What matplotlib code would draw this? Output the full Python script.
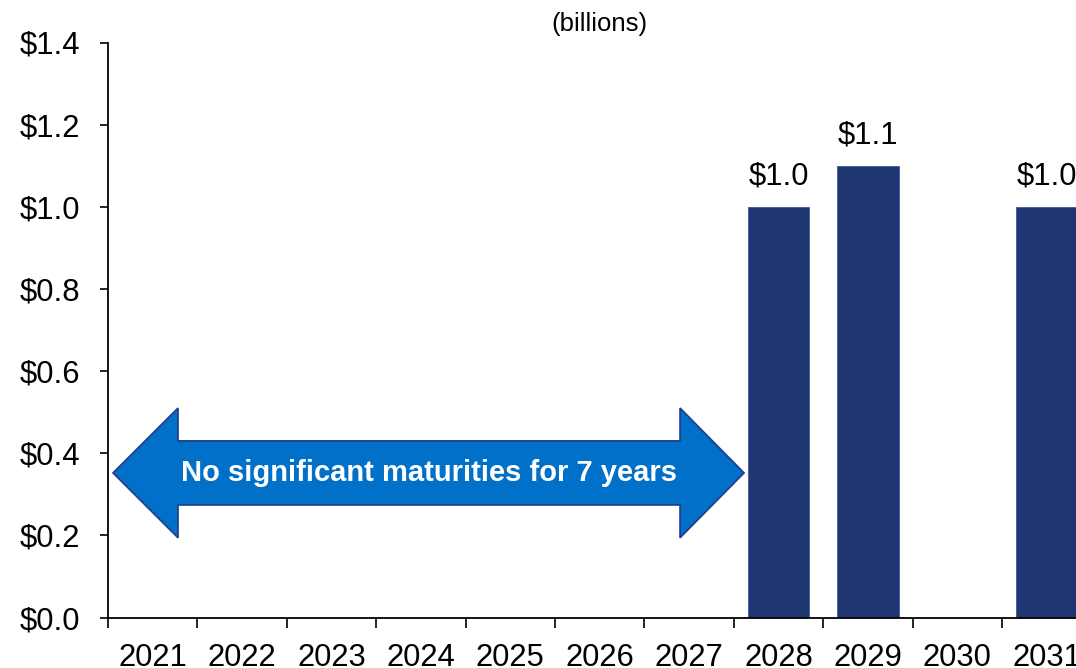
import matplotlib
matplotlib.use("Agg")
import matplotlib.pyplot as plt
from matplotlib.patches import Polygon

years = ["2021", "2022", "2023", "2024", "2025", "2026", "2027",
         "2028", "2029", "2030", "2031"]
maturities = [0.0, 0.0, 0.0, 0.0, 0.0, 0.0, 0.0, 1.0, 1.1, 0.0, 1.0]
y_ticks = [0.0, 0.2, 0.4, 0.6, 0.8, 1.0, 1.2, 1.4]
arrow_text = "No significant maturities for 7 years"

plt.rcParams["font.family"] = ["Liberation Sans", "DejaVu Sans"]

W, H = 1076, 668
fig = plt.figure(figsize=(W / 100, H / 100), dpi=100)
left_px, right_px, bottom_px, top_px = 108, 1091.5, 617.5, 42.5
ax = fig.add_axes([left_px / W, 1 - bottom_px / H,
                   (right_px - left_px) / W, (bottom_px - top_px) / H])

label_size = 22.3
bar_color = "#1F3673"
x = list(range(len(years)))
for xi, v in zip(x, maturities):
    if v > 0:
        ax.bar(xi, v, width=0.69, color=bar_color, edgecolor="#3A5A9A",
               linewidth=0.6, zorder=2)
        ax.annotate(f"${v:.1f}", (xi, v), xytext=(0, 11),
                    textcoords="offset points", ha="center", va="bottom",
                    fontsize=label_size, color="black")

ax.set_xlim(-0.5, len(years) - 0.5)
ax.set_ylim(0, 1.4)

# category boundaries as major ticks, year labels centred between them
ax.set_xticks([i - 0.5 for i in range(len(years) + 1)])
ax.set_xticklabels([])
ax.set_xticks(x, minor=True)
ax.set_xticklabels(years, minor=True, fontsize=label_size)
ax.tick_params(axis="x", which="major", direction="out", length=7, width=1.2)
ax.tick_params(axis="x", which="minor", length=0, pad=18)

ax.set_yticks(y_ticks)
ax.set_yticklabels([f"${t:.1f}" for t in y_ticks], fontsize=label_size)
ax.tick_params(axis="y", direction="out", length=6, width=1.2, pad=14)

for side in ("top", "right"):
    ax.spines[side].set_visible(False)
for side in ("left", "bottom"):
    ax.spines[side].set_linewidth(1.3)
    ax.spines[side].set_color("black")

# double-headed callout arrow over the years without maturities
tip_l, base_l, base_r, tip_r = -0.444, 0.283, 5.898, 6.614
yc, head_hi, head_lo, shaft_hi, shaft_lo = 0.352, 0.510, 0.194, 0.430, 0.274
arrow = Polygon([(tip_l, yc), (base_l, head_hi), (base_l, shaft_hi),
                 (base_r, shaft_hi), (base_r, head_hi), (tip_r, yc),
                 (base_r, head_lo), (base_r, shaft_lo), (base_l, shaft_lo),
                 (base_l, head_lo)], closed=True,
                facecolor="#0070C8", edgecolor="#1F3A8A", linewidth=1.2,
                zorder=3)
ax.add_patch(arrow)
ax.text((tip_l + tip_r) / 2, yc, arrow_text, ha="center", va="center",
        fontsize=21, fontweight="bold", color="white", zorder=4)

fig.text(599 / W, 1 - 24 / H, "(billions)", ha="center", va="center",
         fontsize=18.5)

fig.savefig("out.png", dpi=100)
